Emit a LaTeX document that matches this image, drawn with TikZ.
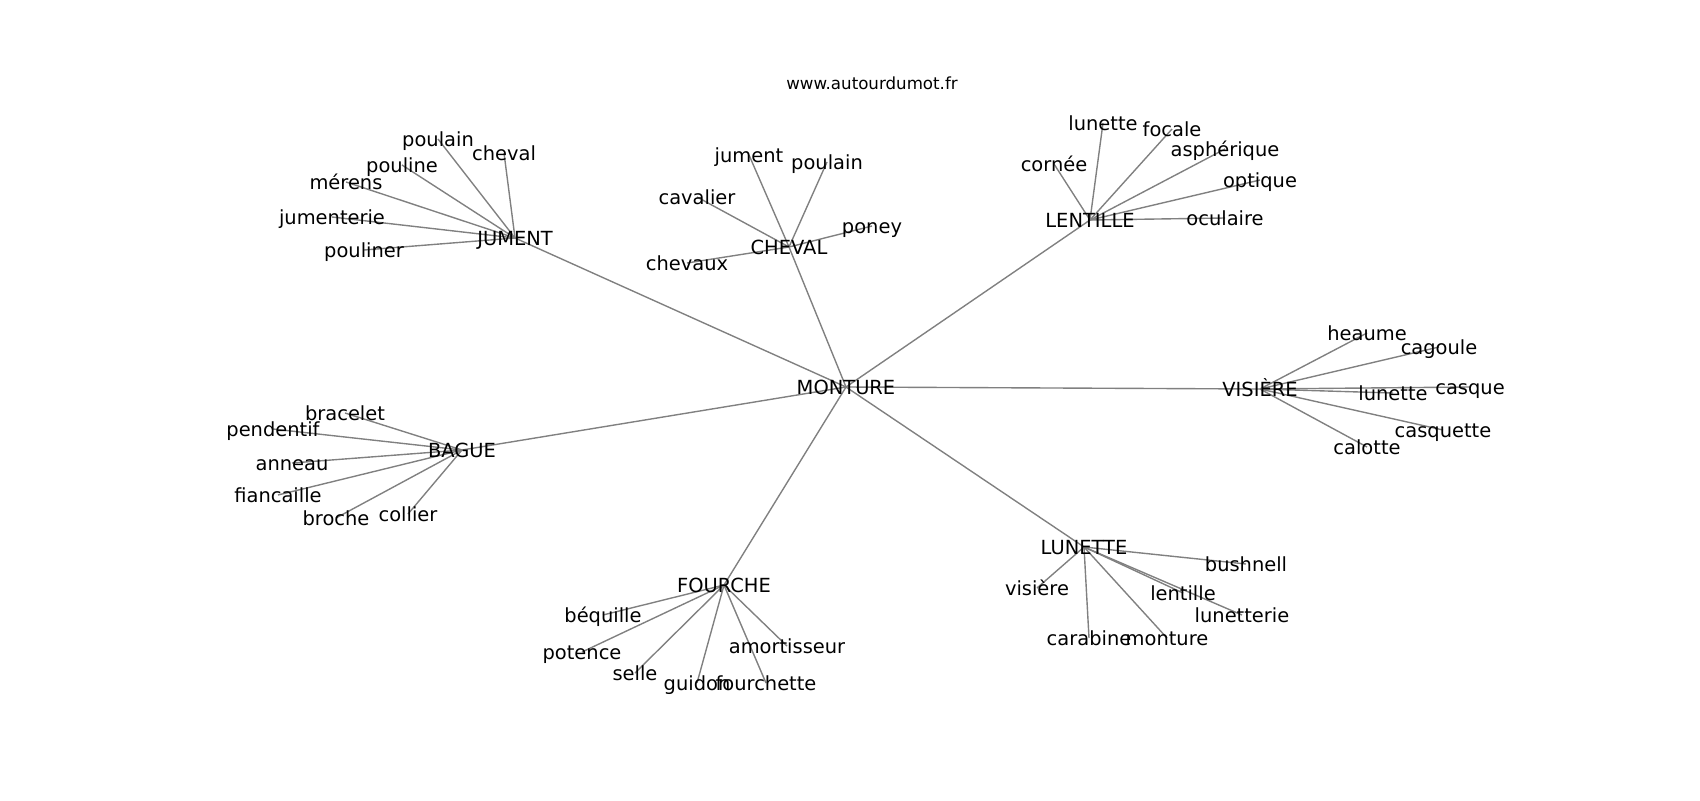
\documentclass[tikz,border=0pt]{standalone}
\usepackage{fontspec}
\setmainfont{DejaVu Sans}
\usetikzlibrary{backgrounds}
\definecolor{edgegray}{gray}{0.5}
\tikzset{
	word/.style={font=\fontsize{14}{17}\selectfont, inner sep=0pt, text height=10.2pt, text depth=0pt},
	site/.style={font=\fontsize{12}{14}\selectfont, inner sep=0pt, text height=8.7pt, text depth=0pt},
	link/.style={draw=edgegray, line width=1pt}
}

\begin{document}
\begin{tikzpicture}[x=0.72pt, y=-0.72pt]
			%%%%% START %%%%%
			
			\useasboundingbox (0, 0) rectangle (1700, 800);
			
			\node[site] (title) at (872, 83) {www.autourdumot.fr};
			
			\node[word] (monture) at (846, 387) {MONTURE};
			
			\node[word] (jument) at (515, 238) {JUMENT};
			\node[word] (j-poulain) at (438, 139) {poulain};
			\node[word] (j-cheval) at (504, 153) {cheval};
			\node[word] (j-pouline) at (402, 165) {pouline};
			\node[word] (j-merens) at (346, 182) {mérens};
			\node[word] (j-jumenterie) at (332, 217) {jumenterie};
			\node[word] (j-pouliner) at (364, 250) {pouliner};
			
			\node[word] (cheval) at (789, 247) {CHEVAL};
			\node[word] (c-jument) at (749, 155) {jument};
			\node[word] (c-poulain) at (827, 162) {poulain};
			\node[word] (c-cavalier) at (697, 197) {cavalier};
			\node[word] (c-poney) at (872, 226) {poney};
			\node[word] (c-chevaux) at (687, 263) {chevaux};
			
			\node[word] (lentille) at (1090, 220) {LENTILLE};
			\node[word] (le-lunette) at (1103, 123) {lunette};
			\node[word] (le-focale) at (1172, 129) {focale};
			\node[word] (le-aspherique) at (1225, 149) {asphérique};
			\node[word] (le-cornee) at (1054, 164) {cornée};
			\node[word] (le-optique) at (1260, 180) {optique};
			\node[word] (le-oculaire) at (1225, 218) {oculaire};
			
			\node[word] (visiere) at (1260, 389) {VISIÈRE};
			\node[word] (v-heaume) at (1367, 333) {heaume};
			\node[word] (v-cagoule) at (1439, 347) {cagoule};
			\node[word] (v-lunette) at (1393, 393) {lunette};
			\node[word] (v-casque) at (1470, 387) {casque};
			\node[word] (v-casquette) at (1443, 430) {casquette};
			\node[word] (v-calotte) at (1367, 447) {calotte};
			
			\node[word] (bague) at (462, 450) {BAGUE};
			\node[word] (b-bracelet) at (345, 413) {bracelet};
			\node[word] (b-pendentif) at (273, 429) {pendentif};
			\node[word] (b-anneau) at (292, 463) {anneau};
			\node[word] (b-fiancaille) at (278, 495) {fiancaille};
			\node[word] (b-broche) at (336, 518) {broche};
			\node[word] (b-collier) at (408, 514) {collier};
			
			\node[word] (fourche) at (724, 585) {FOURCHE};
			\node[word] (f-bequille) at (603, 615) {béquille};
			\node[word] (f-potence) at (582, 652) {potence};
			\node[word] (f-selle) at (635, 673) {selle};
			\node[word] (f-guidon) at (697, 683) {guidon};
			\node[word] (f-fourchette) at (766, 683) {fourchette};
			\node[word] (f-amortisseur) at (787, 646) {amortisseur};
			
			\node[word] (lunette) at (1084, 547) {LUNETTE};
			\node[word] (lu-bushnell) at (1246, 564) {bushnell};
			\node[word] (lu-visiere) at (1037, 588) {visière};
			\node[word] (lu-lentille) at (1183, 593) {lentille};
			\node[word] (lu-lunetterie) at (1242, 615) {lunetterie};
			\node[word] (lu-carabine) at (1089, 638) {carabine};
			\node[word] (lu-monture) at (1167, 638) {monture};
			
			\begin{scope}[on background layer]
			\draw[link] (monture.center) -- (jument.center);
			\draw[link] (monture.center) -- (cheval.center);
			\draw[link] (monture.center) -- (lentille.center);
			\draw[link] (monture.center) -- (visiere.center);
			\draw[link] (monture.center) -- (bague.center);
			\draw[link] (monture.center) -- (fourche.center);
			\draw[link] (monture.center) -- (lunette.center);
			
			\draw[link] (jument.center) -- (j-poulain.center);
			\draw[link] (jument.center) -- (j-cheval.center);
			\draw[link] (jument.center) -- (j-pouline.center);
			\draw[link] (jument.center) -- (j-merens.center);
			\draw[link] (jument.center) -- (j-jumenterie.center);
			\draw[link] (jument.center) -- (j-pouliner.center);
			
			\draw[link] (cheval.center) -- (c-jument.center);
			\draw[link] (cheval.center) -- (c-poulain.center);
			\draw[link] (cheval.center) -- (c-cavalier.center);
			\draw[link] (cheval.center) -- (c-poney.center);
			\draw[link] (cheval.center) -- (c-chevaux.center);
			
			\draw[link] (lentille.center) -- (le-lunette.center);
			\draw[link] (lentille.center) -- (le-focale.center);
			\draw[link] (lentille.center) -- (le-aspherique.center);
			\draw[link] (lentille.center) -- (le-cornee.center);
			\draw[link] (lentille.center) -- (le-optique.center);
			\draw[link] (lentille.center) -- (le-oculaire.center);
			
			\draw[link] (visiere.center) -- (v-heaume.center);
			\draw[link] (visiere.center) -- (v-cagoule.center);
			\draw[link] (visiere.center) -- (v-lunette.center);
			\draw[link] (visiere.center) -- (v-casque.center);
			\draw[link] (visiere.center) -- (v-casquette.center);
			\draw[link] (visiere.center) -- (v-calotte.center);
			
			\draw[link] (bague.center) -- (b-bracelet.center);
			\draw[link] (bague.center) -- (b-pendentif.center);
			\draw[link] (bague.center) -- (b-anneau.center);
			\draw[link] (bague.center) -- (b-fiancaille.center);
			\draw[link] (bague.center) -- (b-broche.center);
			\draw[link] (bague.center) -- (b-collier.center);
			
			\draw[link] (fourche.center) -- (f-bequille.center);
			\draw[link] (fourche.center) -- (f-potence.center);
			\draw[link] (fourche.center) -- (f-selle.center);
			\draw[link] (fourche.center) -- (f-guidon.center);
			\draw[link] (fourche.center) -- (f-fourchette.center);
			\draw[link] (fourche.center) -- (f-amortisseur.center);
			
			\draw[link] (lunette.center) -- (lu-bushnell.center);
			\draw[link] (lunette.center) -- (lu-visiere.center);
			\draw[link] (lunette.center) -- (lu-lentille.center);
			\draw[link] (lunette.center) -- (lu-lunetterie.center);
			\draw[link] (lunette.center) -- (lu-carabine.center);
			\draw[link] (lunette.center) -- (lu-monture.center);
			\end{scope}
			
			%%%%% END %%%%%
\end{tikzpicture}
\end{document}
